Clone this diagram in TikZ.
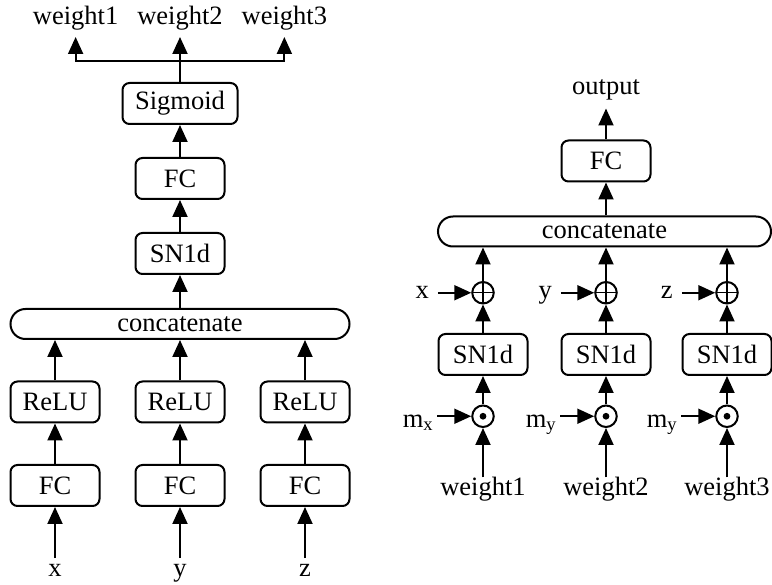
\documentclass[tikz,border=0pt]{standalone}
\usepackage{fontspec}
\setmainfont{Liberation Serif}
\usetikzlibrary{positioning,arrows.meta}

\begin{document}
\begin{tikzpicture}[-{Triangle[length=17pt,width=15pt]}, line width=2pt,
    font=\fontsize{26.5}{31}\selectfont,
    box/.style = {draw, rounded corners=7pt, minimum width=89pt, minimum height=41pt, inner sep=0pt},
    longbox/.style = {draw, rounded corners=15pt, minimum height=30pt, inner sep=0pt},
    lbl/.style = {inner sep=0pt, outer sep=0pt, text height=18.5pt, text depth=6.6pt},
    addc/.style = {draw, circle, minimum size=21.5pt, inner sep=0pt,
        path picture={\draw[-, line width=1.5pt] (path picture bounding box.north) -- (path picture bounding box.south)
            (path picture bounding box.west) -- (path picture bounding box.east);}},
    mulc/.style = {draw, circle, minimum size=21.5pt, inner sep=0pt,
        path picture={\fill (path picture bounding box.center) circle (3.4pt);}}]
        \useasboundingbox (0pt,0pt) rectangle (772pt,-585pt);

        \node[box] (fc1) at (55pt,-485.5pt) {FC};
        \node[box] (fc2) [right=34pt of fc1] {FC};
        \node[box] (fc3) [right=34pt of fc2] {FC};
        \node[box] (relu1) [above=40.5pt of fc1] {ReLU};
        \node[box] (relu2) [above=40.5pt of fc2] {ReLU};
        \node[box] (relu3) [above=40.5pt of fc3] {ReLU};
        \node[lbl] (x1) [below=51pt of fc1] {x};
        \node[lbl] (y1) [below=51pt of fc2] {y};
        \node[lbl] (z1) [below=51pt of fc3] {z};

        \node[longbox, minimum width=339pt] (cat1) [above=40.5pt of relu2] {concatenate};
        \node[box] (sn) [above=33pt of cat1] {SN1d};
        \node[box] (fc4) [above=32pt of sn] {FC};
        \node[box, minimum width=115pt] (sig) [above=32pt of fc4] {Sigmoid};
        \coordinate[above=21pt of sig] (br);
        \node[lbl] (w2) [above=51pt of sig] {weight2};
        \node[lbl] (w1) [left=19pt of w2] {weight1};
        \node[lbl] (w3) [right=19pt of w2] {weight3};

        \draw (x1) -- (fc1);
        \draw (y1) -- (fc2);
        \draw (z1) -- (fc3);
        \draw (fc1) -- (relu1);
        \draw (fc2) -- (relu2);
        \draw (fc3) -- (relu3);
        \draw (relu1.north) -- (relu1.north |- cat1.south);
        \draw (relu2.north) -- (relu2.north |- cat1.south);
        \draw (relu3.north) -- (relu3.north |- cat1.south);
        \draw (cat1) -- (sn);
        \draw (sn) -- (fc4);
        \draw (fc4) -- (sig);
        \draw [-] (sig) -- (br);
        \draw [shorten >=6pt] (br) -| (w1);
        \draw [shorten >=6pt] (br) -- (w2);
        \draw [shorten >=6pt] (br) -| (w3);

        \node[box] (snr1) at (483pt,-354.5pt) {SN1d};
        \node[box] (snr2) [right=32pt of snr1] {SN1d};
        \node[box] (snr3) [right=30pt of snr2] {SN1d};
        \node[mulc] (m1) [below=28.5pt of snr1] {};
        \node[mulc] (m2) [below=28.5pt of snr2] {};
        \node[mulc] (m3) [below=28.5pt of snr3] {};
        \node[addc] (a1) [above=28.5pt of snr1] {};
        \node[addc] (a2) [above=28.5pt of snr2] {};
        \node[addc] (a3) [above=28.5pt of snr3] {};
        \node[lbl] (wr1) [below=49.5pt of m1] {weight1};
        \node[lbl] (wr2) [below=49.5pt of m2] {weight2};
        \node[lbl] (wr3) [below=49.5pt of m3] {weight3};

        \coordinate[left=34pt of m1] (im1);
        \coordinate[left=34pt of m2] (im2);
        \coordinate[left=34pt of m3] (im3);
        \node[lbl, yshift=-5pt] (mx) [left=4pt of im1] {m\textsubscript{x}};
        \node[lbl, yshift=-5pt] (my) [left=4pt of im2] {m\textsubscript{y}};
        \node[lbl, yshift=-5pt] (mz) [left=4pt of im3] {m\textsubscript{y}};
        \coordinate[left=33.5pt of a1] (ia1);
        \coordinate[left=33.5pt of a2] (ia2);
        \coordinate[left=33.5pt of a3] (ia3);
        \node[lbl] (x2) [left=9pt of ia1] {x};
        \node[lbl] (y2) [left=9pt of ia2] {y};
        \node[lbl] (z2) [left=9pt of ia3] {z};

        \node[longbox, minimum width=333pt] (cat2) [above=33.5pt of a2, xshift=-1.5pt] {concatenate};
        \node[box] (fc5) [above=33pt of cat2, xshift=1.5pt] {FC};
        \node[lbl] (out) [above=38pt of fc5] {output};

        \draw (wr1) -- (m1);
        \draw (wr2) -- (m2);
        \draw (wr3) -- (m3);
        \draw (im1) -- (m1);
        \draw (im2) -- (m2);
        \draw (im3) -- (m3);
        \draw (m1) -- (snr1);
        \draw (m2) -- (snr2);
        \draw (m3) -- (snr3);
        \draw (snr1) -- (a1);
        \draw (snr2) -- (a2);
        \draw (snr3) -- (a3);
        \draw (ia1) -- (a1);
        \draw (ia2) -- (a2);
        \draw (ia3) -- (a3);
        \draw (a1.north) -- (a1.north |- cat2.south);
        \draw (a2.north) -- (a2.north |- cat2.south);
        \draw (a3.north) -- (a3.north |- cat2.south);
        \draw (fc5 |- cat2.north) -- (fc5);
        \draw [shorten >=7pt] (fc5) -- (out);
    \end{tikzpicture}
\end{document}
